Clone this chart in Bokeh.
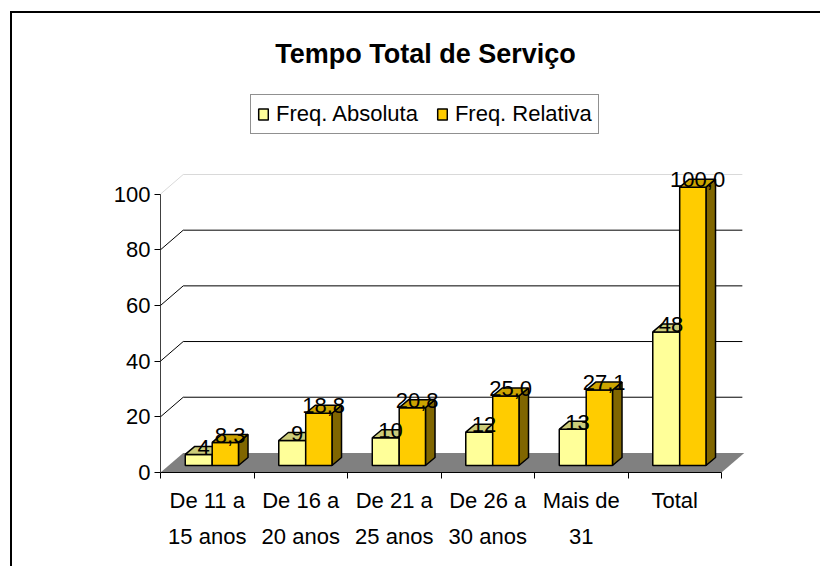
from bokeh.plotting import figure
from bokeh.models import FixedTicker, Legend, LegendItem, ColumnDataSource, Label
from bokeh.embed import file_html
from bokeh.resources import INLINE
from bokeh.core.properties import value

# ---------------- data ----------------
categories = ["De 11 a\n15 anos", "De 16 a\n20 anos", "De 21 a\n25 anos",
              "De 26 a\n30 anos", "Mais de\n31", "Total"]
freq_abs = [4, 9, 10, 12, 13, 48]
freq_rel = [8.3, 18.8, 20.8, 25.0, 27.1, 100.0]
y_ticks = [0, 20, 40, 60, 80, 100]
series_names = ["Freq. Absoluta", "Freq. Relativa"]
title_text = "Tempo Total de Serviço"

# ---------------- styling / geometry ----------------
W, H = 810, 555
FONT = "Liberation Sans"
PX_X, PX_Y = 93.5, 2.784            # pixels per x unit / per y unit
WALL_DX, WALL_DY = 0.243, 7.04      # depth of the back wall
BAR_BASE = 2.5                      # bars sit partway into the floor
BAR_DX, BAR_DY = 0.102, 2.87        # depth of each bar
LABEL_LIFT = 2.6                    # data-label lift above the bar top
X0 = -0.5
N = len(categories)

p = figure(width=W, height=H, x_range=(X0, X0 + 600 / PX_X), y_range=(0, 452 / PX_Y),
           output_backend="svg", toolbar_location=None,
           min_border_left=148, min_border_right=62,
           min_border_top=7, min_border_bottom=96)
p.styles = {"margin-left": "10px", "margin-top": "11px",
            "border-left": "2px solid black", "border-top": "2px solid black"}
p.outline_line_color = None
p.xgrid.visible = False
p.ygrid.visible = False

# floor
p.patch([X0, X0 + N, X0 + N + WALL_DX, X0 + WALL_DX], [0, 0, WALL_DY, WALL_DY],
        fill_color="#808080", line_color=None)

# back-wall gridlines
for v in y_ticks[1:]:
    col = "#d9d9d9" if v == y_ticks[-1] else "black"
    p.segment(x0=[X0], y0=[v], x1=[X0 + WALL_DX], y1=[v + WALL_DY], line_color=col, line_width=1)
    p.segment(x0=[X0 + WALL_DX], y0=[v + WALL_DY], x1=[X0 + N + WALL_DX - 0.02],
              y1=[v + WALL_DY], line_color=col, line_width=1)

series = [
    (freq_abs, -0.235, 0.053, "#FFFF99", "#CCCC7A", "#999973"),
    (freq_rel, 0.053, 0.334, "#FFCC00", "#CCA300", "#806600"),
]

legend_items = []
for name, (vals, a, b, c_front, c_top, c_side) in zip(series_names, series):
    xs_side, ys_side, xs_top, ys_top = [], [], [], []
    left, right, top = [], [], []
    for i, v in enumerate(vals):
        l, r, t = i + a, i + b, BAR_BASE + v
        left.append(l); right.append(r); top.append(t)
        xs_side.append([r, r + BAR_DX, r + BAR_DX, r])
        ys_side.append([BAR_BASE, BAR_BASE + BAR_DY, t + BAR_DY, t])
        xs_top.append([l, r, r + BAR_DX, l + BAR_DX])
        ys_top.append([t, t, t + BAR_DY, t + BAR_DY])
    p.patches(xs_side, ys_side, fill_color=c_side, line_color="black", line_width=1.5)
    front = p.quad(left=left, right=right, bottom=[BAR_BASE] * N, top=top,
                   fill_color=c_front, line_color="black", line_width=1.5)
    p.patches(xs_top, ys_top, fill_color=c_top, line_color="black", line_width=1.5)
    legend_items.append(LegendItem(label=name, renderers=[front]))

# data labels
for vals, a, b, fmt in [(freq_abs, -0.235, 0.053, "{:d}"), (freq_rel, 0.053, 0.334, "{:.1f}")]:
    src = ColumnDataSource(dict(
        x=[i + (a + b) / 2 + BAR_DX / 2 for i in range(N)],
        y=[BAR_BASE + v + LABEL_LIFT for v in vals],
        t=[fmt.format(v).replace(".", ",") for v in vals]))
    p.text(x="x", y="y", text="t", source=src, text_font=value(FONT),
           text_font_size="22px", text_align="center", text_baseline="alphabetic",
           text_color="black")

# axes
p.xaxis.ticker = FixedTicker(ticks=list(range(N)), minor_ticks=[X0 + k for k in range(N + 1)])
p.xaxis.major_label_overrides = {i: c for i, c in enumerate(categories)}
p.xaxis.bounds = (X0, X0 + N)
p.xaxis.major_tick_out = 0
p.xaxis.major_tick_in = 0
p.xaxis.minor_tick_out = 6
p.xaxis.minor_tick_in = 0
p.xaxis.major_label_standoff = 9
p.xaxis.major_label_text_font = FONT
p.xaxis.major_label_text_font_size = "22px"
p.xaxis.major_label_text_line_height = 1.44
p.xaxis.major_label_text_color = "black"
p.xaxis.axis_line_color = "black"
p.xaxis.minor_tick_line_color = "black"

p.yaxis.ticker = FixedTicker(ticks=y_ticks, minor_ticks=[])
p.yaxis.bounds = (0, 100)
p.yaxis.major_tick_out = 6
p.yaxis.major_tick_in = 0
p.yaxis.minor_tick_out = 0
p.yaxis.major_label_standoff = 4
p.yaxis.major_label_text_font = FONT
p.yaxis.major_label_text_font_size = "22px"
p.yaxis.major_label_text_color = "black"
p.yaxis.axis_line_color = "#404040"
p.yaxis.major_tick_line_color = "black"

# legend (inside the frame, above the plot area)
legend = Legend(items=legend_items, orientation="horizontal", location=(90, 338),
                label_text_font=FONT, label_text_font_size="22px", label_height=22,
                label_text_color="black",
                glyph_width=12, glyph_height=14, label_standoff=7, spacing=18,
                padding=6, margin=0, border_line_color="#222222", border_line_width=1)
p.add_layout(legend, "center")

# title
p.add_layout(Label(x=X0 + 265 / PX_X, y=419 / PX_Y, text=title_text,
                   text_font=FONT, text_font_size="27px", text_font_style="bold",
                   text_align="center", text_baseline="alphabetic", text_color="black"))

open("out.html", "w").write(file_html(p, INLINE))
